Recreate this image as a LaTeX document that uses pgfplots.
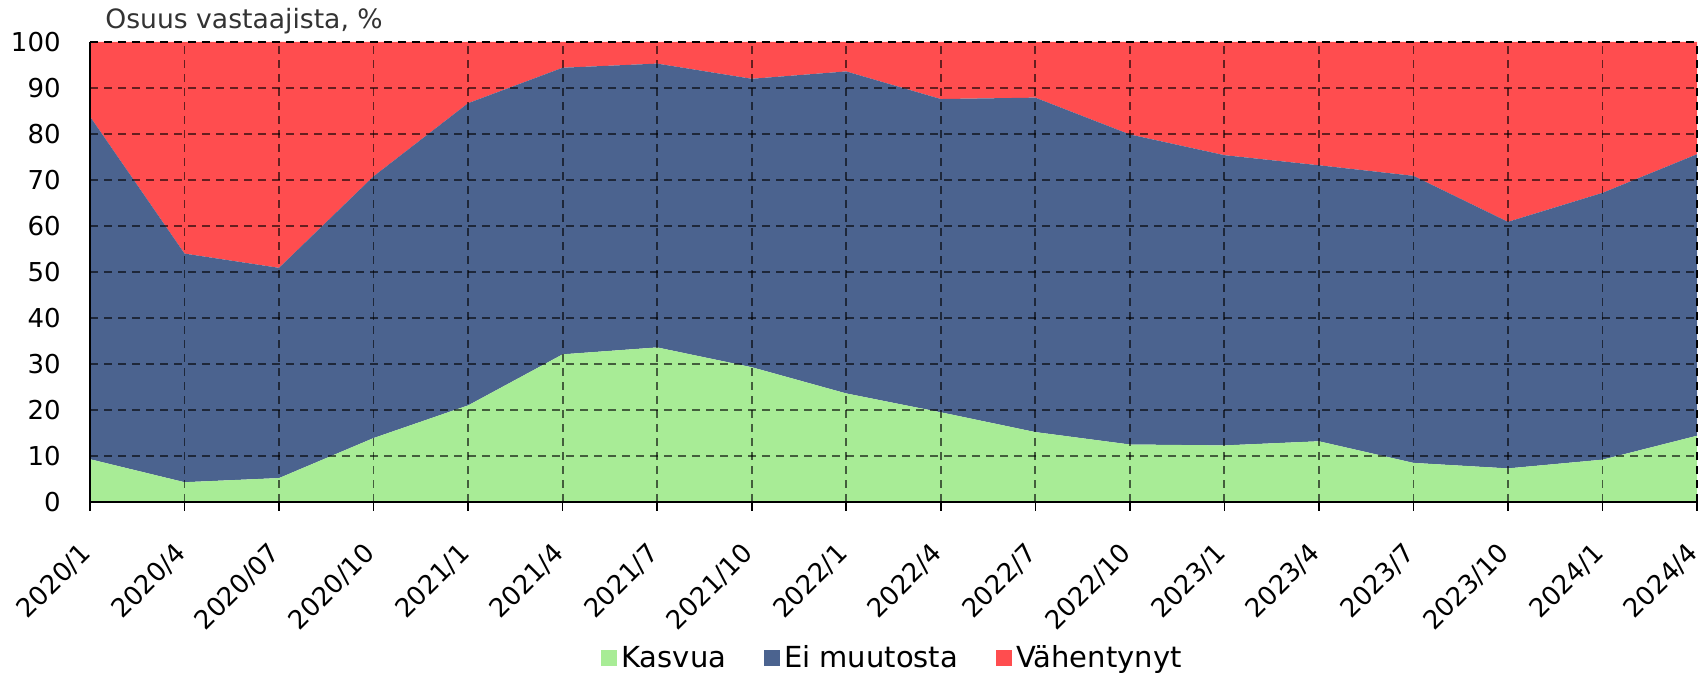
\documentclass[border=0pt]{standalone}
\usepackage{pgfplots}
\pgfplotsset{compat=1.18}
\usepackage{fontspec}
\setmainfont{DejaVu Sans}
\definecolor{cgreen}{HTML}{A8EC96}
\definecolor{cblue}{HTML}{4B638F}
\definecolor{cred}{HTML}{FF4D4F}
\begin{document}
\begin{tikzpicture}
\path[use as bounding box] (-45pt,-85.5pt) rectangle (807pt,251pt);
\begin{axis}[
  name=ax,
  scale only axis,
  width=803.5pt, height=230pt,
  xmin=0, xmax=17, ymin=0, ymax=100,
  stack plots=y,
  axis on top,
  axis x line*=bottom, axis y line*=left,
  axis line style={line width=1pt, black, -},
  xtick={0,...,17},
  xticklabels={2020/1,2020/4,2020/07,2020/10,2021/1,2021/4,2021/7,2021/10,2022/1,2022/4,2022/7,2022/10,2023/1,2023/4,2023/7,2023/10,2024/1,2024/4},
  ytick={0,10,...,90},
  extra y ticks={100},
  extra y tick style={grid style={black, opacity=1, dash pattern=on 4pt off 3pt, line width=0.9pt}},
  extra x ticks={17},
  extra x tick labels={},
  extra x tick style={grid style={black, opacity=1, dash pattern=on 4pt off 3pt, line width=0.9pt}},
  grid=major,
  grid style={black, opacity=0.6, dash pattern=on 4pt off 3pt, line width=0.9pt},
  tick align=outside,
  major tick length=4.5pt,
  xtick style={line width=0.8pt, black},
  ytick style={draw=none},
  tick label style={font=\fontsize{13}{15}\selectfont},
  /pgf/number format/assume math mode=true,
  yticklabel style={anchor=east, inner sep=0pt, xshift=-10pt},
  xticklabel style={inner sep=0pt, xshift=-5.5pt, yshift=-15pt, rotate=45, anchor=north east},
  legend style={at={(0.5,-0.339)}, anchor=center, draw=none, fill=none,
    legend columns=-1, font=\fontsize{14.5}{16}\selectfont,
    /tikz/every even column/.append style={column sep=17pt},
    inner sep=0pt},
  legend cell align=left,
]
\addplot[fill=cgreen, draw=none, legend image code/.code={\fill[cgreen] (0pt,-4pt) rectangle (8pt,4pt);}] coordinates {
(0,9.3) (1,4.3) (2,5.2) (3,13.9) (4,21.0) (5,32.1) (6,33.6) (7,29.3) (8,23.6)
(9,19.5) (10,15.2) (11,12.5) (12,12.3) (13,13.2) (14,8.5) (15,7.3) (16,9.2) (17,14.4)
} \closedcycle;
\addlegendentry{Kasvua}
\addplot[fill=cblue, draw=none, legend image code/.code={\fill[cblue] (0pt,-4pt) rectangle (8pt,4pt);}] coordinates {
(0,74.5) (1,49.7) (2,45.7) (3,56.9) (4,65.7) (5,62.3) (6,61.7) (7,62.7) (8,70.0)
(9,68.1) (10,72.7) (11,67.4) (12,63.1) (13,60.0) (14,62.4) (15,53.6) (16,58.0) (17,61.2)
} \closedcycle;
\addlegendentry{Ei muutosta}
\addplot[fill=cred, draw=none, legend image code/.code={\fill[cred] (0pt,-4pt) rectangle (8pt,4pt);}] coordinates {
(0,16.2) (1,46.0) (2,49.1) (3,29.2) (4,13.3) (5,5.6) (6,4.7) (7,8.0) (8,6.4)
(9,12.4) (10,12.1) (11,20.1) (12,24.6) (13,26.8) (14,29.1) (15,39.1) (16,32.8) (17,24.4)
} \closedcycle;
\addlegendentry{Vähentynyt}
\end{axis}
\node[anchor=base west, inner sep=0pt, font=\fontsize{13.3}{15}\selectfont, text=black!80] at ([xshift=7.5pt, yshift=6.5pt]ax.north west) {Osuus vastaajista, \%};
\end{tikzpicture}
\end{document}
